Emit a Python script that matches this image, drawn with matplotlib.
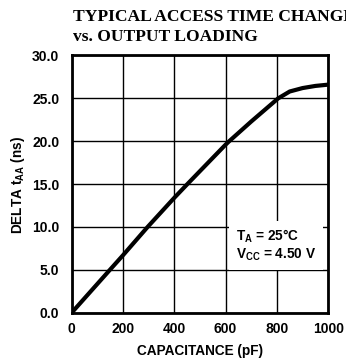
import matplotlib
matplotlib.use("Agg")
import matplotlib.pyplot as plt

# values
cap_pf = [0, 149, 200, 296, 400, 451, 600, 614, 700, 805, 850, 900, 950, 1000]
delta_taa = [0.0, 5.0, 6.7, 10.0, 13.4, 15.0, 19.6, 20.0, 22.3, 25.0, 25.8, 26.2, 26.45, 26.6]
x_ticks = [0, 200, 400, 600, 800, 1000]
y_ticks = [0.0, 5.0, 10.0, 15.0, 20.0, 25.0, 30.0]

plt.rcParams["mathtext.fontset"] = "custom"
plt.rcParams["mathtext.rm"] = "Liberation Sans:bold"
plt.rcParams["mathtext.it"] = "Liberation Sans:bold"
plt.rcParams["mathtext.bf"] = "Liberation Sans:bold"
sans = {"family": "Liberation Sans", "weight": "bold"}

fig = plt.figure(figsize=(3.46, 3.62), dpi=100)
ax = fig.add_axes([0.2072, 0.1362, 0.7413, 0.7105])

ax.plot(cap_pf, delta_taa, color="black", lw=3.0, solid_capstyle="round", zorder=3)

ax.set_xlim(0, 1000)
ax.set_ylim(0, 30)
ax.set_xticks(x_ticks, [str(v) for v in x_ticks])
ax.set_yticks(y_ticks, [f"{v:.1f}" for v in y_ticks])
ax.tick_params(axis="x", length=0, pad=7)
ax.tick_params(axis="y", length=0, pad=9)
for lab in ax.get_xticklabels() + ax.get_yticklabels():
    lab.set_fontproperties(sans)
    lab.set_fontsize(10)
ax.grid(True, color="black", lw=1.0)
ax.set_axisbelow(True)
for s in ax.spines.values():
    s.set_linewidth(2.0)

fig.text(0.578, 0.030, "CAPACITANCE (pF)", fontdict=sans, fontsize=9.8,
         ha="center", va="center")
fig.text(0.052, 0.49, r"DELTA t$_{AA}$ (ns)", fontdict=sans, fontsize=9.8,
         ha="center", va="center", rotation=90)

# white box with conditions, covering the grid
ax.text(0.64, 0.262, "T$_A$ = 25°C\nV$_{CC}$ = 4.50 V", transform=ax.transAxes,
        fontdict=sans, fontsize=9.8, va="center", ha="left", linespacing=1.15,
        bbox=dict(facecolor="white", edgecolor="none", pad=5), zorder=4)

fig.text(0.211, 0.975, "TYPICAL ACCESS TIME CHANGE\nvs. OUTPUT LOADING",
         family="Liberation Serif", weight="bold", fontsize=12.6,
         va="top", ha="left", linespacing=1.3)

fig.savefig("out.png", dpi=100)
